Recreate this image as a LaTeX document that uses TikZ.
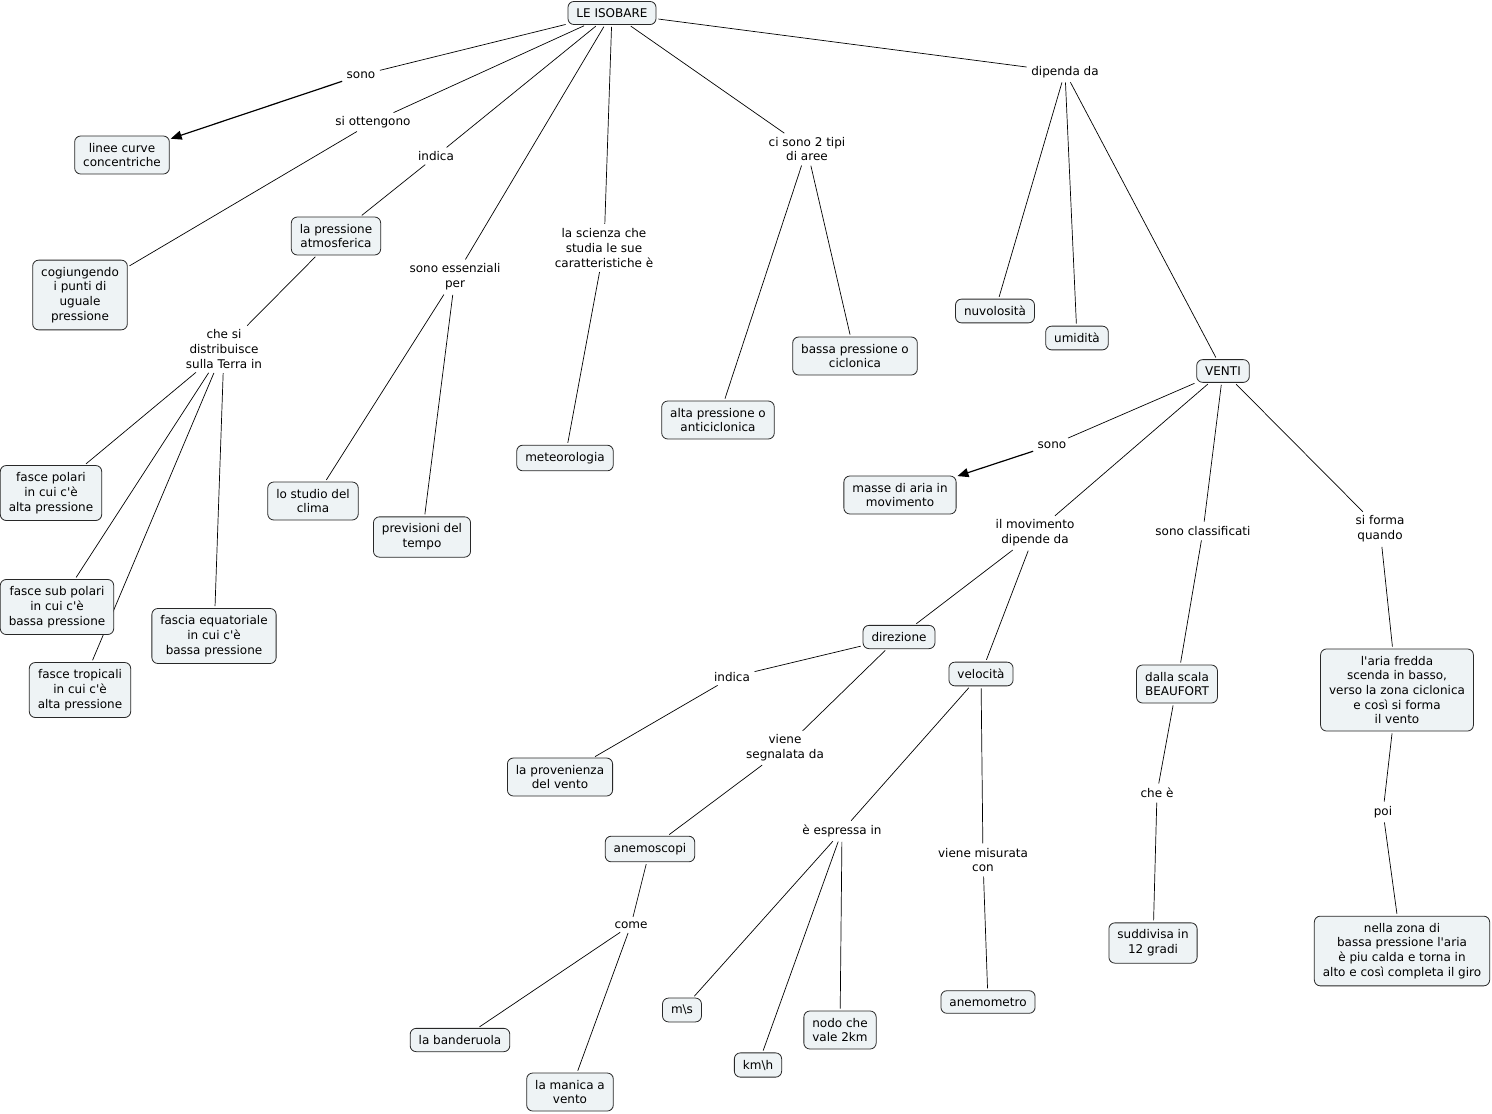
\documentclass[tikz,border=0pt]{standalone}
\usepackage{fontspec}
\setmainfont{DejaVu Sans}
\usetikzlibrary{arrows.meta}
\definecolor{boxfill}{RGB}{238,243,245}
\definecolor{boxline}{RGB}{40,40,40}
\newcommand\cmfont{\fontsize{12}{14.7}\selectfont}
\newcommand\aps{\textquotesingle}
\pgfdeclarelayer{bgzero}
\pgfdeclarelayer{edges}
\pgfsetlayers{bgzero,edges,main}
\tikzset{
  concept/.style={draw=boxline, fill=boxfill, rounded corners=6pt, align=center,
    inner xsep=8.5pt, inner ysep=7pt, font=\cmfont, line width=0.8pt},
  linkph/.style={align=center, inner sep=2.5pt, font=\cmfont},
  conn/.style={line width=0.7pt, shorten <=2pt, shorten >=2pt},
  arrconn/.style={line width=1.2pt, shorten <=2pt, shorten >=1pt, -{Triangle[length=11pt,width=9pt]}}
}
\begin{document}
\begin{tikzpicture}[x=1pt,y=-1pt]
\begin{pgfonlayer}{bgzero}
\fill[white] (0,0) rectangle (1492,1114);
\end{pgfonlayer}
\useasboundingbox (0,0) rectangle (1492,1114);

% concepts
\node[concept] (iso) at (612,13) {LE ISOBARE};
\node[concept] (linee) at (122,155) {linee curve\\concentriche};
\node[concept] (cog) at (80,295) {cogiungendo\\i punti di\\uguale\\pressione};
\node[concept] (patm) at (336,236) {la pressione\\atmosferica};
\node[concept] (fpol) at (51,493) {fasce polari\\in cui c\aps è\\alta pressione};
\node[concept] (fsub) at (57,607) {fasce sub polari\\in cui c\aps è\\bassa pressione};
\node[concept] (ftro) at (80,690) {fasce tropicali\\in cui c\aps è\\alta pressione};
\node[concept] (fequ) at (214,636) {fascia equatoriale\\in cui c\aps è\\bassa pressione};
\node[concept] (clima) at (313,501) {lo studio del\\clima};
\node[concept] (prev) at (422,537) {previsioni del\\tempo};
\node[concept] (meteo) at (565,458) {meteorologia};
\node[concept] (alta) at (718,420) {alta pressione o\\anticiclonica};
\node[concept] (bassa) at (855,356) {bassa pressione o\\ciclonica};
\node[concept] (nuv) at (995,311) {nuvolosità};
\node[concept] (umi) at (1077,338) {umidità};
\node[concept] (venti) at (1223,371) {VENTI};
\node[concept] (masse) at (900,495) {masse di aria in\\movimento};
\node[concept] (dir) at (899,637) {direzione};
\node[concept] (vel) at (981,674) {velocità};
\node[concept] (beau) at (1177,684) {dalla scala\\BEAUFORT};
\node[concept] (aria) at (1397,690) {l\aps aria fredda\\scenda in basso,\\verso la zona ciclonica\\e così si forma\\il vento};
\node[concept] (prov) at (560,777) {la provenienza\\del vento};
\node[concept] (anesc) at (650,849) {anemoscopi};
\node[concept] (band) at (460,1040) {la banderuola};
\node[concept] (manica) at (570,1092) {la manica a\\vento};
\node[concept] (ms) at (682,1010) {m\textbackslash s};
\node[concept] (kmh) at (758,1065) {km\textbackslash h};
\node[concept] (nodo) at (840,1030) {nodo che\\vale 2km};
\node[concept] (anem) at (988,1002) {anemometro};
\node[concept] (sudd) at (1153,943) {suddivisa in\\12 gradi};
\node[concept] (zona) at (1402,951) {nella zona di\\bassa pressione l\aps aria\\è piu calda e torna in\\alto e così completa il giro};

% linking phrases
\node[linkph] (l1) at (361,75) {sono};
\node[linkph] (l2) at (373,122) {si ottengono};
\node[linkph] (l3) at (436,156) {indica};
\node[linkph] (l4) at (224,349) {che si\\distribuisce\\sulla Terra in};
\node[linkph] (l5) at (455,277) {sono essenziali\\per};
\node[linkph] (l6) at (604,248) {la scienza che\\studia le sue\\caratteristiche è};
\node[linkph] (l7) at (807,149) {ci sono 2 tipi\\di aree};
\node[linkph] (l8) at (1065,72) {dipenda da};
\node[linkph] (l9) at (1052,445) {sono};
\node[linkph] (l10) at (1035,533) {il movimento\\dipende da};
\node[linkph] (l11) at (1203,531) {sono classificati};
\node[linkph] (l12) at (1380,529) {si forma\\quando};
\node[linkph] (l13) at (732,677) {indica};
\node[linkph] (l14) at (785,748) {viene\\segnalata da};
\node[linkph] (l15) at (842,831) {è espressa in};
\node[linkph] (l16) at (983,860) {viene misurata\\con};
\node[linkph] (l17) at (1157,793) {che è};
\node[linkph] (l18) at (1383,812) {poi};
\node[linkph] (l19) at (631,925) {come};

\begin{pgfonlayer}{edges}
\draw[conn] (iso) -- (l1);
\draw[arrconn] (l1) -- (linee);
\draw[conn] (iso) -- (l2);
\draw[conn] (l2) -- (cog);
\draw[conn] (iso) -- (l3);
\draw[conn] (l3) -- (patm);
\draw[conn] (patm) -- (l4);
\draw[conn] (l4) -- (fpol);
\draw[conn] (l4) -- (fsub);
\draw[conn] (l4) -- (ftro);
\draw[conn] (l4) -- (fequ);
\draw[conn] (iso) -- (l5);
\draw[conn] (l5) -- (clima);
\draw[conn] (l5) -- (prev);
\draw[conn] (iso) -- (l6);
\draw[conn] (l6) -- (meteo);
\draw[conn] (iso) -- (l7);
\draw[conn] (l7) -- (alta);
\draw[conn] (l7) -- (bassa);
\draw[conn] (iso) -- (l8);
\draw[conn] (l8) -- (nuv);
\draw[conn] (l8) -- (umi);
\draw[conn] (l8) -- (venti);
\draw[conn] (venti) -- (l9);
\draw[arrconn] (l9) -- (masse);
\draw[conn] (venti) -- (l10);
\draw[conn] (l10) -- (dir);
\draw[conn] (l10) -- (vel);
\draw[conn] (venti) -- (l11);
\draw[conn] (l11) -- (beau);
\draw[conn] (venti) -- (l12);
\draw[conn] (l12) -- (aria);
\draw[conn] (aria) -- (l18);
\draw[conn] (l18) -- (zona);
\draw[conn] (beau) -- (l17);
\draw[conn] (l17) -- (sudd);
\draw[conn] (dir) -- (l13);
\draw[conn] (l13) -- (prov);
\draw[conn] (dir) -- (l14);
\draw[conn] (l14) -- (anesc);
\draw[conn] (anesc) -- (l19);
\draw[conn] (l19) -- (band);
\draw[conn] (l19) -- (manica);
\draw[conn] (vel) -- (l15);
\draw[conn] (l15) -- (ms);
\draw[conn] (l15) -- (kmh);
\draw[conn] (l15) -- (nodo);
\draw[conn] (vel) -- (l16);
\draw[conn] (l16) -- (anem);
\end{pgfonlayer}
\end{tikzpicture}
\end{document}
